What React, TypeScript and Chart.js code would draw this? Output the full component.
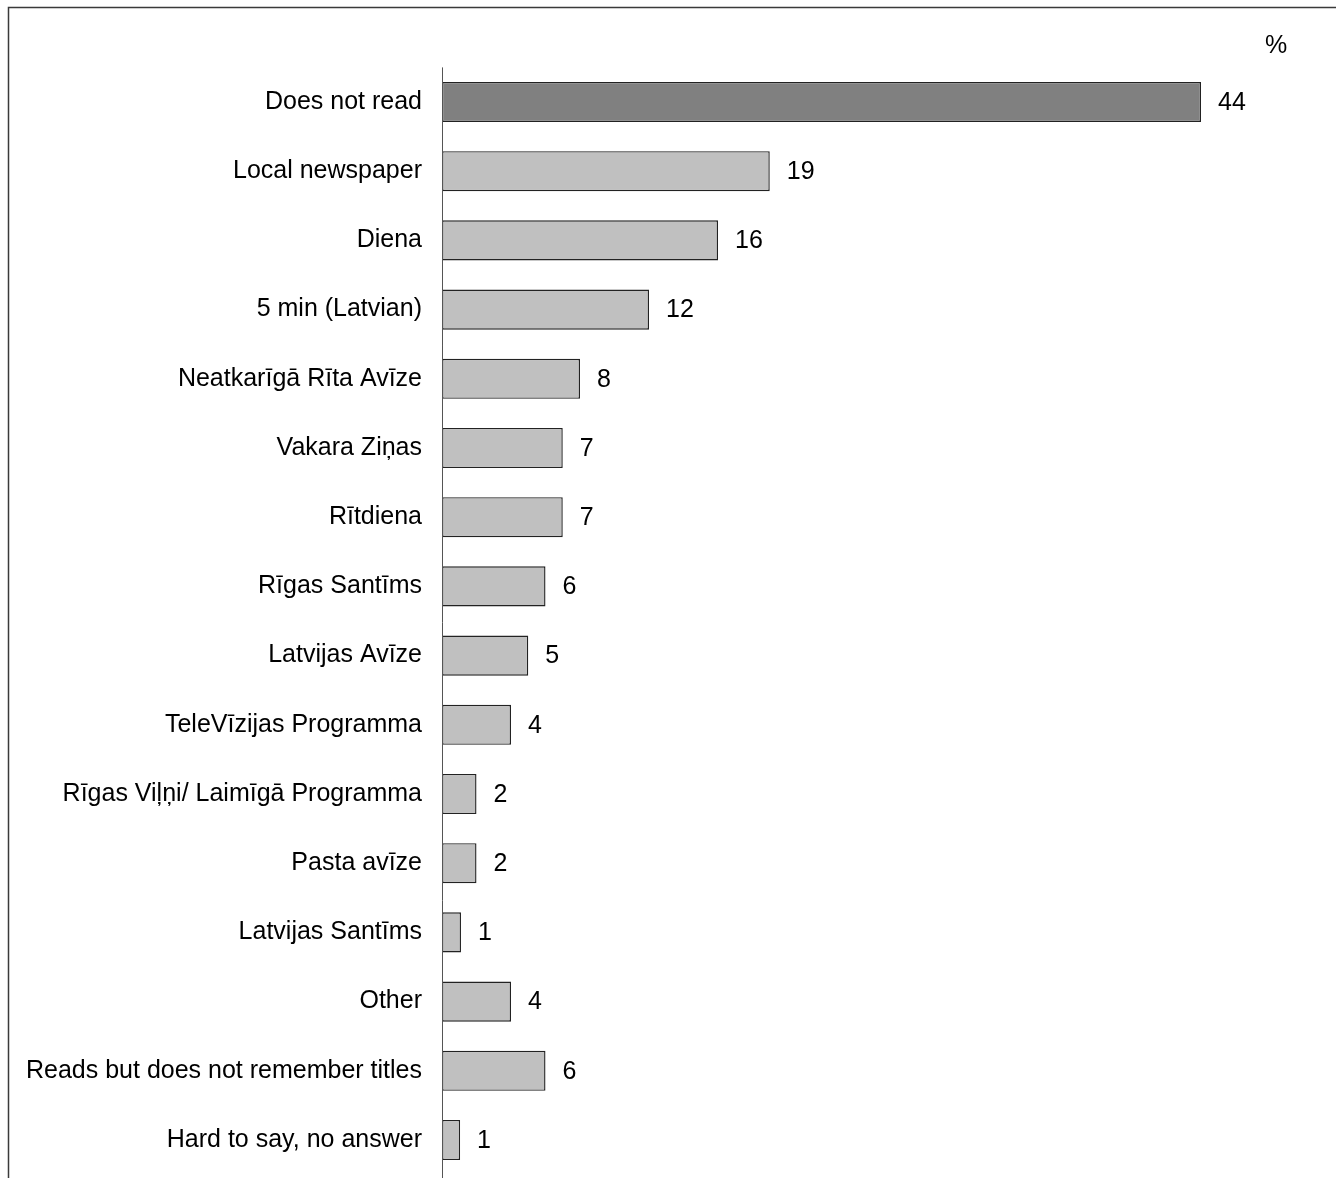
import React, { useEffect, useRef } from "react";
import { Chart, registerables } from "chart.js";

Chart.register(...registerables);

const categories = [
  "Does not read",
  "Local newspaper",
  "Diena",
  "5 min (Latvian)",
  "Neatkarīgā Rīta Avīze",
  "Vakara Ziņas",
  "Rītdiena",
  "Rīgas Santīms",
  "Latvijas Avīze",
  "TeleVīzijas Programma",
  "Rīgas Viļņi/ Laimīgā Programma",
  "Pasta avīze",
  "Latvijas Santīms",
  "Other",
  "Reads but does not remember titles",
  "Hard to say, no answer",
];

const values = [44, 19, 16, 12, 8, 7, 7, 6, 5, 4, 2, 2, 1.1, 4, 6, 1.05];
const valueLabels = ["44", "19", "16", "12", "8", "7", "7", "6", "5", "4", "2", "2", "1", "4", "6", "1"];
const unitLabel = "%";

const FONT = "'Liberation Sans', Arial, Helvetica, sans-serif";

export default function App() {
  const ref = useRef<HTMLCanvasElement | null>(null);

  useEffect(() => {
    const canvas = ref.current;
    if (!canvas) return;

    const overlay = {
      id: "overlay",
      afterDatasetsDraw(chart: any) {
        const ctx = chart.ctx;
        const meta = chart.getDatasetMeta(0);
        const area = chart.chartArea;
        ctx.save();
        // frame
        ctx.strokeStyle = "#3a3a3a";
        ctx.lineWidth = 1.5;
        ctx.beginPath();
        ctx.moveTo(8.5, 1178);
        ctx.lineTo(8.5, 7.5);
        ctx.lineTo(1336, 7.5);
        ctx.stroke();
        // axis line
        ctx.strokeStyle = "#555";
        ctx.lineWidth = 1;
        ctx.beginPath();
        ctx.moveTo(Math.round(area.left) + 0.5, area.top);
        ctx.lineTo(Math.round(area.left) + 0.5, 1178);
        ctx.stroke();
        // value labels
        ctx.fillStyle = "#000";
        ctx.font = `25px ${FONT}`;
        ctx.textAlign = "left";
        ctx.textBaseline = "middle";
        meta.data.forEach((el: any, i: number) => {
          ctx.fillText(valueLabels[i], el.x + 17, el.y + 1);
        });
        // unit
        ctx.textAlign = "center";
        ctx.fillText(unitLabel, 1276, 46);
        ctx.restore();
      },
    };

    const chart = new Chart(canvas, {
      type: "bar",
      data: {
        labels: categories,
        datasets: [
          {
            data: values,
            backgroundColor: values.map((_, i) => (i === 0 ? "#808080" : "#c0c0c0")),
            borderColor: "#222222",
            borderWidth: 1.4,
            borderSkipped: false,
            categoryPercentage: 1,
            barPercentage: 0.58,
          },
        ],
      },
      options: {
        indexAxis: "y",
        animation: false,
        responsive: false,
        maintainAspectRatio: false,
        layout: { padding: { top: 67.4, bottom: 3.4, left: 0, right: 31.5 } },
        plugins: {
          legend: { display: false },
          tooltip: { enabled: false },
          title: { display: false },
        },
        scales: {
          x: {
            display: false,
            min: 0,
            max: 50,
          },
          y: {
            grid: { display: false, drawTicks: false },
            border: { display: false },
            ticks: {
              color: "#000",
              padding: 20,
              font: { size: 25, family: FONT },
            },
            afterFit(scale: any) {
              scale.width = 442;
              scale.paddingTop = 0;
              scale.paddingBottom = 0;
            },
          },
        },
      },
      plugins: [overlay],
    });

    return () => chart.destroy();
  }, []);

  return (
    <div style={{ position: "absolute", left: 0, top: 0, width: 1336, height: 1178, background: "#fff" }}>
      <canvas ref={ref} width={1336} height={1178} style={{ width: 1336, height: 1178, display: "block" }} />
    </div>
  );
}
